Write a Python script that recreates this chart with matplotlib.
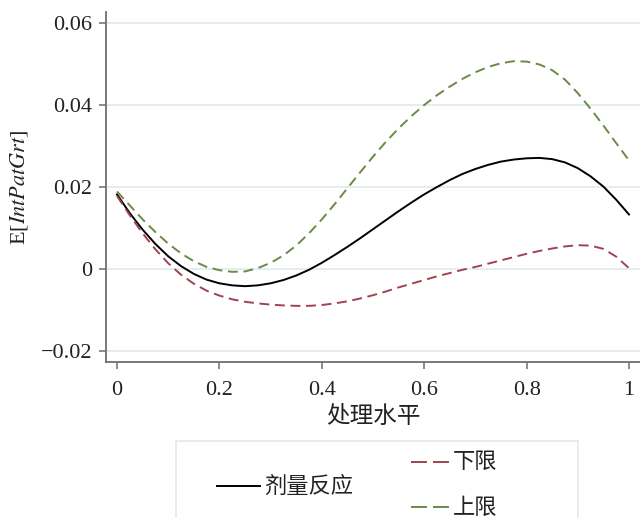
import matplotlib
matplotlib.use('Agg')
import matplotlib.pyplot as plt
from matplotlib.lines import Line2D
import numpy as np

plt.rcParams['font.family'] = ['Liberation Serif', 'DejaVu Serif']
plt.rcParams['mathtext.fontset'] = 'stix'

# treatment level grid (step 0.025) and values
dose = np.arange(41) * 0.025
response = [0.0182, 0.0136, 0.0096, 0.0061, 0.0031, 0.0007, -0.0012, -0.0026, -0.0035, -0.0040,
            -0.0042, -0.0040, -0.0035, -0.0027, -0.0016, -0.0002, 0.0015, 0.0034, 0.0054, 0.0075,
            0.0097, 0.0119, 0.0141, 0.0162, 0.0182, 0.0200, 0.0217, 0.0232, 0.0244, 0.0254,
            0.0262, 0.0267, 0.0270, 0.0271, 0.0268, 0.0260, 0.0246, 0.0226, 0.0201, 0.0169, 0.0133]
lower = [0.0178, 0.0131, 0.0087, 0.0048, 0.0014, -0.0014, -0.0036, -0.0053, -0.0065, -0.0074,
         -0.0080, -0.0084, -0.0087, -0.0089, -0.0090, -0.0090, -0.0088, -0.0084, -0.0079, -0.0072,
         -0.0064, -0.0055, -0.0045, -0.0036, -0.0027, -0.0018, -0.0010, -0.0002, 0.0005, 0.0013,
         0.0021, 0.0029, 0.0037, 0.0044, 0.0050, 0.0055, 0.0058, 0.0057, 0.0049, 0.0030, 0.0002]
upper = [0.0189, 0.0155, 0.0121, 0.0090, 0.0062, 0.0038, 0.0019, 0.0005, -0.0003, -0.0007,
         -0.0006, 0.0002, 0.0015, 0.0033, 0.0057, 0.0087, 0.0121, 0.0158, 0.0197, 0.0236,
         0.0274, 0.0310, 0.0343, 0.0373, 0.0400, 0.0424, 0.0445, 0.0464, 0.0480, 0.0493,
         0.0502, 0.0507, 0.0506, 0.0499, 0.0485, 0.0462, 0.0429, 0.0391, 0.0350, 0.0307, 0.0265]

xticks = [0, 0.2, 0.4, 0.6, 0.8, 1]
xticklabels = ['0', '0.2', '0.4', '0.6', '0.8', '1']
yticks = [-0.02, 0, 0.02, 0.04, 0.06]
yticklabels = ['\u22120.02', '0', '0.02', '0.04', '0.06']

red = '#a0434f'
green = '#6b8a45'
cjk = 'Noto Sans CJK SC'
dash = (0, (5.1, 2.9))

fig = plt.figure(figsize=(6.4, 5.18), dpi=100)
ax = fig.add_axes([106/640, 1 - 362/518, 1 - 106/640, (362 - 12)/518])

ax.plot(dose, response, color='black', lw=1.4)
ax.plot(dose, lower, color=red, lw=1.4, ls=dash)
ax.plot(dose, upper, color=green, lw=1.4, ls=dash)

ax.set_xlim(-0.0215, 1.0215)
ax.set_ylim(-0.0227, 0.0627)
ax.set_xticks(xticks)
ax.set_xticklabels(xticklabels)
ax.set_yticks(yticks)
ax.set_yticklabels(yticklabels)
ax.grid(axis='y', color='#dce9ec', lw=1.1)
ax.set_axisbelow(True)

for s in ['top', 'right']:
    ax.spines[s].set_visible(False)
for s in ['left', 'bottom']:
    ax.spines[s].set_color('#6e6e6e')
    ax.spines[s].set_linewidth(1.3)
ax.tick_params(axis='both', length=5, width=1.1, color='#6e6e6e', labelsize=16, labelcolor='#222222')
ax.tick_params(axis='y', pad=5)
ax.tick_params(axis='x', pad=9)

ax.set_ylabel('E[$IntPatGrt$]', fontsize=16, color='#222222', labelpad=8)
ax.set_xlabel('处理水平', fontsize=17, family=cjk, color='#222222', labelpad=3)

# legend box, cut off by the bottom edge like in the original
lax = fig.add_axes([176/640, -0.05, (578 - 176)/640, 0.05 + 1 - 441/518])
lax.set_xticks([])
lax.set_yticks([])
for s in lax.spines.values():
    s.set_color('#dce9ec')
    s.set_linewidth(1.1)

def legend_item(x0, x1, y, color, ls, label):
    fy = 1 - y/518
    fig.add_artist(Line2D([x0/640, x1/640], [fy, fy], color=color, lw=1.4, ls=ls,
                          transform=fig.transFigure))
    fig.text((x1 + 4)/640, fy, label, family=cjk, fontsize=16, va='center', ha='left', color='#222222')

legend_item(217, 260, 486, 'black', '-', '剂量反应')
legend_item(411, 449, 462, red, (0, (8.2, 3.1)), '下限')
legend_item(411, 449, 507, green, (0, (8.2, 3.1)), '上限')

fig.savefig('out.png', dpi=100)
